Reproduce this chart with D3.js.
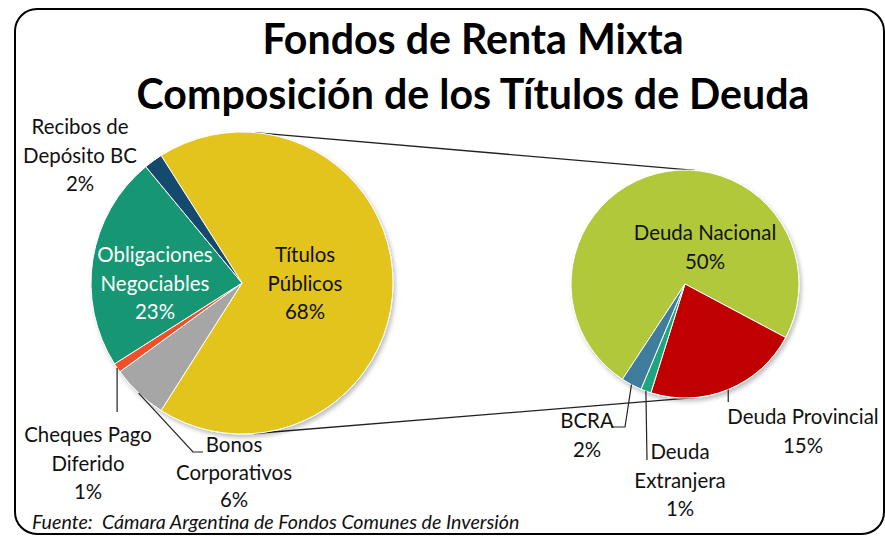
<!DOCTYPE html>
<html><head><meta charset="utf-8">
<script src="https://cdn.jsdelivr.net/npm/d3@7"></script>
<style>
html,body{margin:0;padding:0;background:#fff;}
svg{display:block;}
text{font-family:Lato,"Open Sans",sans-serif;}
</style></head>
<body>
<svg id="c" width="885" height="536"></svg>
<script>
// ---- data ----
const titleLines = ["Fondos de Renta Mixta", "Composición de los Títulos de Deuda"];
const source = "Fuente:  Cámara Argentina de Fondos Comunes de Inversión";

const mainCategories = ["Títulos Públicos", "Bonos Corporativos", "Cheques Pago Diferido", "Obligaciones Negociables", "Recibos de Depósito BC"];
const mainValues = [68, 6, 1, 23, 2];
const mainColors = ["#E3C41E", "#A6A6A6", "#F0502A", "#179673", "#174A6E"];

const subCategories = ["Deuda Nacional", "Deuda Provincial", "Deuda Extranjera", "BCRA"];
const subValues = [50, 15, 1, 2];
const subColors = ["#B2C83A", "#C00000", "#1FA57E", "#3F7C9B"];

const svg = d3.select("#c");
const deg = Math.PI / 180;

// frame
svg.append("rect").attr("x", 15).attr("y", 9).attr("width", 869).attr("height", 525)
  .attr("rx", 22).attr("ry", 22).attr("fill", "#fff").attr("stroke", "#000").attr("stroke-width", 2);

const defs = svg.append("defs");
const f = defs.append("filter").attr("id", "sh").attr("x", "-10%").attr("y", "-10%").attr("width", "130%").attr("height", "130%");
f.append("feDropShadow").attr("dx", 2).attr("dy", 3).attr("stdDeviation", 2).attr("flood-color", "#000").attr("flood-opacity", 0.25);

// helper to fit a font size to a target width
function fitSize(sample, target, weight, style, base) {
  const t = svg.append("text").attr("font-size", base).attr("font-weight", weight || "normal")
    .attr("font-style", style || "normal").text(sample);
  const w = t.node().getComputedTextLength();
  t.remove();
  return base * target / w;
}

// title
const titleSize = fitSize(titleLines[1], 673, "bold", null, 40);
const titleY = [54, 109];
titleLines.forEach((s, i) => {
  svg.append("text").attr("x", 473).attr("y", titleY[i]).attr("text-anchor", "middle")
    .attr("font-weight", "bold").attr("font-size", titleSize).attr("fill", "#000").text(s);
});

const labelSize = fitSize("Depósito BC", 114, "normal", null, 18);

// geometry
const C1 = {x: 242, y: 283, r: 151};
const C2 = {x: 685, y: 284, r: 114};

// connector lines: external tangents of both pies
(function () {
  const dx = C2.x - C1.x, dy = C2.y - C1.y, d = Math.hypot(dx, dy);
  const base = Math.atan2(dy, dx);
  const a = Math.acos((C1.r - C2.r) / d);
  [base - a, base + a].forEach(t => {
    svg.append("line")
      .attr("x1", C1.x + C1.r * Math.cos(t)).attr("y1", C1.y + C1.r * Math.sin(t))
      .attr("x2", C2.x + C2.r * Math.cos(t)).attr("y2", C2.y + C2.r * Math.sin(t))
      .attr("stroke", "#222").attr("stroke-width", 1.3);
  });
})();

// main pie: "other" slice centred at 3 o'clock
const mainTotal = d3.sum(mainValues);
const mainStart = Math.PI / 2 - (mainValues[0] / mainTotal) * Math.PI;
const mainPie = d3.pie().sort(null).startAngle(mainStart).endAngle(mainStart + 2 * Math.PI);
const mainArcs = mainPie(mainValues);
const arc1 = d3.arc().innerRadius(0).outerRadius(C1.r);
const g1 = svg.append("g").attr("transform", `translate(${C1.x},${C1.y})`);
g1.append("g").attr("filter", "url(#sh)").selectAll("path").data(mainArcs).join("path")
  .attr("d", arc1).attr("fill", (d, i) => mainColors[i]).attr("stroke", "#fff").attr("stroke-width", 1);

// second pie
const subStart = -146.7 * deg;
const subPie = d3.pie().sort(null).startAngle(subStart).endAngle(subStart + 2 * Math.PI);
const subArcs = subPie(subValues);
const arc2 = d3.arc().innerRadius(0).outerRadius(C2.r);
const g2 = svg.append("g").attr("transform", `translate(${C2.x},${C2.y})`);
g2.append("g").attr("filter", "url(#sh)").selectAll("path").data(subArcs).join("path")
  .attr("d", arc2).attr("fill", (d, i) => subColors[i]).attr("stroke", "#fff").attr("stroke-width", 1);

// labels
function label(lines, x, y, color, lh) {
  lh = lh || 28.5;
  const t = svg.append("text").attr("text-anchor", "middle").attr("font-size", labelSize).attr("fill", color || "#111");
  lines.forEach((s, i) => t.append("tspan").attr("x", x).attr("y", y + i * lh).text(s));
}
function midPoint(arcD, C) {
  const a = (arcD.startAngle + arcD.endAngle) / 2;
  return [C.x + C.r * Math.sin(a), C.y - C.r * Math.cos(a)];
}
function leader(pts) {
  svg.append("path").attr("d", d3.line()(pts)).attr("fill", "none").attr("stroke", "#222").attr("stroke-width", 1.2);
}
const pct = v => Math.round(v) + "%";

label(["Títulos", "Públicos", pct(mainValues[0])], 305, 262);
label(["Obligaciones", "Negociables", pct(mainValues[3])], 155, 262, "#fff");
label(["Recibos de", "Depósito BC", pct(mainValues[4])], 80, 134);
label(["Cheques Pago", "Diferido", pct(mainValues[2])], 88, 442);
label(["Bonos", "Corporativos", pct(mainValues[1])], 234, 452, null, 27.5);

let p = midPoint(mainArcs[2], C1);
leader([p, [p[0], 412]]);
p = midPoint(mainArcs[1], C1);
leader([p, [193, 452], [203, 452]]);

label(["Deuda Nacional", pct(subValues[0])], 705, 240);
label(["Deuda Provincial", pct(subValues[1])], 803, 424);
label(["BCRA", pct(subValues[3])], 587, 428);
label(["Deuda", "Extranjera", pct(subValues[2])], 680, 459);

p = midPoint(subArcs[1], C2);
leader([p, [p[0], 402]]);
p = midPoint(subArcs[3], C2);
leader([p, [625, 427], [611, 427]]);
p = midPoint(subArcs[2], C2);
leader([p, [647, 460]]);

// source
const srcSize = fitSize(source, 483, "normal", "italic", 14);
svg.append("text").attr("x", 32).attr("y", 529).attr("font-style", "italic")
  .attr("font-size", srcSize).attr("fill", "#111").attr("xml:space", "preserve").style("white-space", "pre").text(source);
</script>
</body></html>
